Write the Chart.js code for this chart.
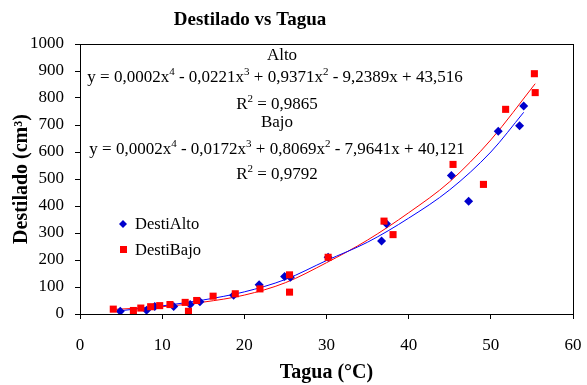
<!DOCTYPE html>
<html>
<head>
<meta charset="utf-8">
<script src="https://cdn.jsdelivr.net/npm/chart.js@4/dist/chart.umd.min.js"></script>
<style>
  html, body { margin: 0; padding: 0; background: #fff; }
</style>
</head>
<body>
<canvas id="chart" width="587" height="385"></canvas>
<script>
// --- data ---
const altoX = [4.9, 8.1, 9.1, 11.4, 13.4, 14.6, 18.7, 21.8, 24.9, 25.6, 30.2, 36.7, 37.3, 45.2, 47.3, 50.9, 53.5, 54.0];
const altoY = [10, 14, 28, 28, 35, 45, 69, 108, 139, 136, 210, 270, 334, 513, 418, 677, 697, 770];

const bajoX = [4.05, 6.5, 7.4, 8.6, 9.7, 10.95, 12.8, 13.2, 14.2, 16.2, 18.9, 21.9, 25.5, 25.5, 30.2, 37.0, 38.1, 45.4, 49.1, 51.8, 55.3, 55.4];
const bajoY = [18, 13, 22, 27, 31, 35, 43, 10, 50, 66, 75, 93, 145, 81, 210, 344, 294, 554, 480, 758, 890, 820];

// trend lines
const trendAltoX = [4.9, 10, 15, 20, 25, 30, 35, 40, 45, 50, 54];
const trendAltoY = [12, 30, 52, 82, 128, 198, 266, 355, 460, 600, 747];
const trendBajoX = [4.05, 10, 15, 20, 25, 30, 35, 40, 45, 50, 55.4];
const trendBajoY = [17, 27, 44, 70, 116, 190, 274, 375, 490, 645, 853];

const xTicks = [0, 10, 20, 30, 40, 50, 60];
const yTicks = [0, 100, 200, 300, 400, 500, 600, 700, 800, 900, 1000];

const toPoints = (xs, ys) => xs.map((x, i) => ({ x: x, y: ys[i] }));

const SERIF = '"Liberation Serif", "Times New Roman", serif';
const BLUE = '#0000CC';
const RED = '#FF0000';

// equation labels: [text, superscript?]
const eqAlto = [['y = 0,0002x'], ['4', true], [' - 0,0221x'], ['3', true], [' + 0,9371x'], ['2', true], [' - 9,2389x + 43,516']];
const r2Alto = [['R'], ['2', true], [' = 0,9865']];
const eqBajo = [['y = 0,0002x'], ['4', true], [' - 0,0172x'], ['3', true], [' + 0,8069x'], ['2', true], [' - 7,9641x + 40,121']];
const r2Bajo = [['R'], ['2', true], [' = 0,9792']];

function drawRich(ctx, parts, cx, y, size) {
  const big = size + 'px ' + SERIF;
  const small = Math.round(size * 0.62) + 'px ' + SERIF;
  let total = 0;
  parts.forEach(p => {
    ctx.font = p[1] ? small : big;
    total += ctx.measureText(p[0]).width;
  });
  let x = cx - total / 2;
  ctx.textAlign = 'left';
  ctx.textBaseline = 'alphabetic';
  parts.forEach(p => {
    ctx.font = p[1] ? small : big;
    ctx.fillText(p[0], x, p[1] ? y - size * 0.42 : y);
    x += ctx.measureText(p[0]).width;
  });
}

const decorPlugin = {
  id: 'decor',
  afterDraw(chart) {
    const ctx = chart.ctx;
    const a = chart.chartArea;
    ctx.save();
    // plot box
    ctx.strokeStyle = '#000';
    ctx.lineWidth = 1;
    ctx.strokeRect(Math.round(a.left) + 0.5, Math.round(a.top) + 0.5, Math.round(a.right - a.left), Math.round(a.bottom - a.top));

    ctx.fillStyle = '#000';
    // title
    ctx.font = 'bold 19px ' + SERIF;
    ctx.textAlign = 'center';
    ctx.textBaseline = 'alphabetic';
    ctx.fillText('Destilado vs Tagua', 250, 25);

    // equations
    const fs = 17;
    ctx.font = fs + 'px ' + SERIF;
    ctx.textAlign = 'center';
    ctx.fillText('Alto', 282, 60);
    drawRich(ctx, eqAlto, 275, 82, fs);
    drawRich(ctx, r2Alto, 277, 109, fs);
    ctx.font = fs + 'px ' + SERIF;
    ctx.textAlign = 'center';
    ctx.fillText('Bajo', 277, 127);
    drawRich(ctx, eqBajo, 277, 154, fs);
    drawRich(ctx, r2Bajo, 277, 179, fs);

    // legend
    ctx.fillStyle = BLUE;
    ctx.beginPath();
    ctx.moveTo(123, 220); ctx.lineTo(127, 224); ctx.lineTo(123, 228); ctx.lineTo(119, 224);
    ctx.closePath(); ctx.fill();
    ctx.fillStyle = RED;
    ctx.fillRect(120, 246, 7, 7);
    ctx.fillStyle = '#000';
    ctx.font = '16.5px ' + SERIF;
    ctx.textAlign = 'left';
    ctx.textBaseline = 'middle';
    ctx.fillText('DestiAlto', 135, 225);
    ctx.fillText('DestiBajo', 135, 251);
    ctx.restore();
  }
};

new Chart(document.getElementById('chart'), {
  type: 'scatter',
  data: {
    datasets: [
      { label: 'trendAlto', data: toPoints(trendAltoX, trendAltoY), type: 'line', showLine: true,
        borderColor: '#0000FF', borderWidth: 1, pointRadius: 0, cubicInterpolationMode: 'monotone', fill: false, order: 3 },
      { label: 'trendBajo', data: toPoints(trendBajoX, trendBajoY), type: 'line', showLine: true,
        borderColor: RED, borderWidth: 1, pointRadius: 0, cubicInterpolationMode: 'monotone', fill: false, order: 4 },
      { label: 'DestiAlto', data: toPoints(altoX, altoY), pointStyle: 'rectRot', pointRadius: 4.5,
        backgroundColor: BLUE, borderColor: BLUE, borderWidth: 0, order: 2 },
      { label: 'DestiBajo', data: toPoints(bajoX, bajoY), pointStyle: 'rect', pointRadius: 5,
        backgroundColor: RED, borderColor: RED, borderWidth: 0, order: 1 }
    ]
  },
  options: {
    responsive: false,
    animation: false,
    events: [],
    layout: { padding: { top: 44, right: 14, left: 0, bottom: 0 } },
    plugins: { legend: { display: false }, tooltip: { enabled: false } },
    scales: {
      x: {
        type: 'linear', min: 0, max: 60,
        afterBuildTicks: s => { s.ticks = xTicks.map(v => ({ value: v })); },
        afterFit: s => { s.height = 71; s.paddingLeft = 0; s.paddingRight = 0; },
        grid: { drawOnChartArea: false, color: '#000', tickLength: 5 },
        border: { color: '#000' },
        ticks: { color: '#000', font: { family: SERIF, size: 17 }, padding: 16, maxRotation: 0 },
        title: { display: true, text: 'Tagua (°C)', color: '#000', font: { family: SERIF, size: 20, weight: 'bold' }, padding: { top: 4, bottom: 0 } }
      },
      y: {
        type: 'linear', min: 0, max: 1000,
        afterBuildTicks: s => { s.ticks = yTicks.map(v => ({ value: v })); },
        afterFit: s => { s.width = 80; s.paddingTop = 0; s.paddingBottom = 0; },
        grid: { drawOnChartArea: false, color: '#000', tickLength: 5 },
        border: { color: '#000' },
        ticks: { color: '#000', font: { family: SERIF, size: 17 }, padding: 11, callback: v => String(v) },
        title: { display: true, text: 'Destilado (cm³)', color: '#000', font: { family: SERIF, size: 20, weight: 'bold' }, padding: { top: 10, bottom: 0 } }
      }
    }
  },
  plugins: [decorPlugin]
});
</script>
</body>
</html>
